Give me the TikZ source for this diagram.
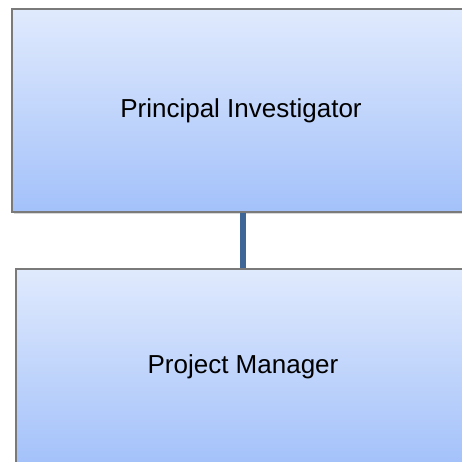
\documentclass[tikz,border=0pt]{standalone}
\usepackage{fontspec}
\setmainfont{Liberation Sans}
\usetikzlibrary{shadows}
\definecolor{boxtop}{HTML}{E0EAFD}
\definecolor{boxbottom}{HTML}{A3C1FA}
\definecolor{boxline}{HTML}{7A7A7A}
\definecolor{linkblue}{HTML}{3E6696}
\tikzset{
  rolebox/.style={draw=boxline,line width=1.3pt,top color=boxtop,bottom color=boxbottom,
    drop shadow={opacity=.3,shadow xshift=1.5pt,shadow yshift=-2pt},
    font=\fontsize{26}{31}\selectfont,inner sep=0pt},
  link/.style={linkblue,line width=5.5pt}
}
\begin{document}
\begin{tikzpicture}[x=1pt,y=1pt]
\useasboundingbox [fill=white] (0,0) rectangle (462,462);
\node [rolebox,minimum width=458pt,minimum height=203pt] (pi) at (241,351.5) {Principal Investigator};
\node [rolebox,minimum width=454pt,minimum height=196pt] (pm) at (243,95) {Project Manager};
% straight down into the lower box
\draw [link] (pm.north |- pi.south) -- (pm.north);
\end{tikzpicture}
\end{document}
